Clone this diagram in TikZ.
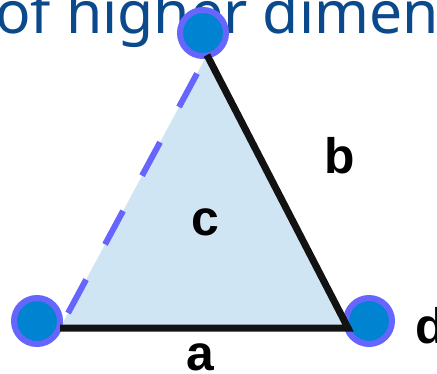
\documentclass[tikz,border=0pt]{standalone}
\usepackage{fontspec}
\setmainfont{Liberation Sans}
\newfontfamily\titlefont{Noto Sans}
\definecolor{ringblue}{HTML}{6666FF}
\definecolor{dotblue}{HTML}{0084D1}
\definecolor{facefill}{HTML}{CFE5F3}
\definecolor{titleblue}{HTML}{0A4A8C}
\tikzset{vertex/.style={circle, draw=ringblue, fill=dotblue, line width=6bp,
    minimum size=46bp, inner sep=0pt}}
\tikzset{edge/.style={line width=7bp, black!93, line join=miter}}
\tikzset{hiddenedge/.style={line width=6bp, ringblue,
    dash pattern=on 38bp off 40bp, dash phase=61bp}}
\tikzset{lbl/.style={font=\fontsize{50}{50}\selectfont\bfseries, inner sep=0pt}}
\begin{document}
\begin{tikzpicture}[x=1bp, y=-1bp]
  \useasboundingbox (0,0) rectangle (437,373);
  \node[anchor=base west, inner sep=0pt, text=titleblue,
        font=\titlefont\fontsize{59}{59}\selectfont] (title) at (-5,33) {of higher dimen};
  % corners of the face
  \coordinate (A) at (60,328);
  \coordinate (B) at (348,328);
  \coordinate (C) at (207,55);
  \fill[facefill] (A) -- (B) -- (C) -- cycle;
  \node[vertex] (top) at (203,33) {};
  \node[vertex] (left) at (37,321) {};
  \node[vertex] (right) at (369,321) {};
  \draw[hiddenedge] (A) -- (C);
  \draw[edge] (C) -- (B) -- (A);
  \node[lbl, anchor=base] (lb) at (340,173) {b};
  \node[lbl, anchor=base] (lc) at (205,235) {c};
  \node[lbl, anchor=base] (la) at (200,370) {a};
  \node[lbl, anchor=base west] (ld) at (415,343) {d};
\end{tikzpicture}
\end{document}
